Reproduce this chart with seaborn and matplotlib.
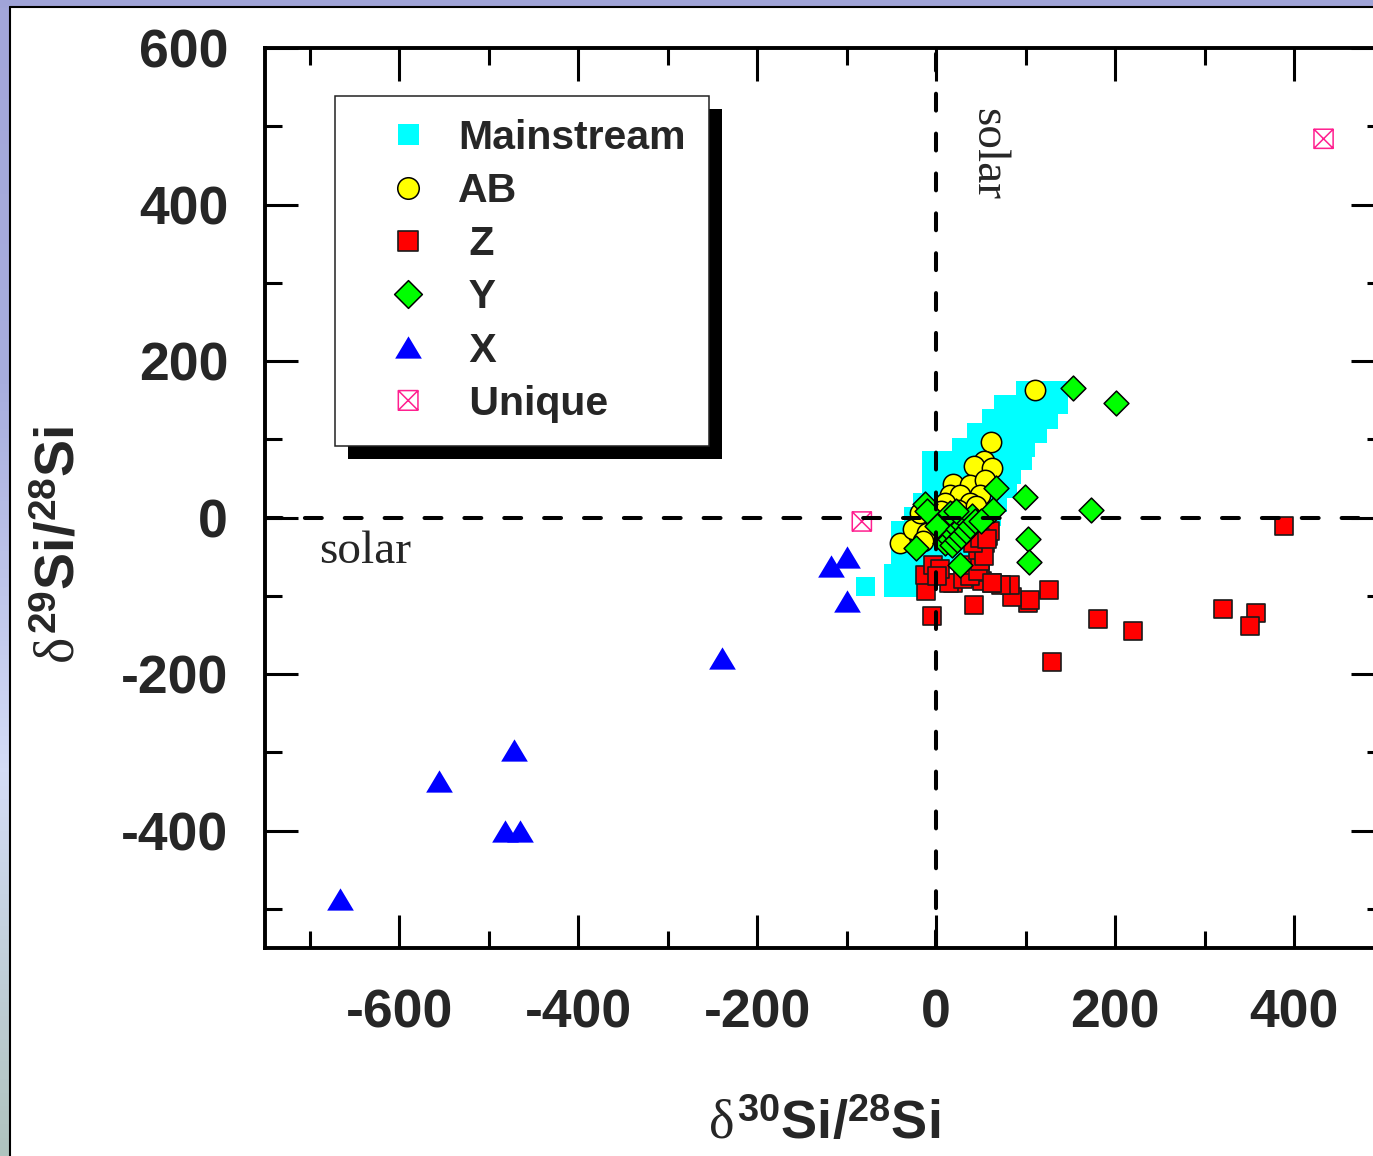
"""SiC presolar grains: d29Si vs d30Si by grain type."""
import matplotlib

matplotlib.use("Agg")
import matplotlib.patheffects as pe
import matplotlib.pyplot as plt
import numpy as np
import seaborn as sns
from matplotlib.lines import Line2D
from matplotlib.path import Path
from matplotlib.patches import Rectangle
from matplotlib.ticker import MultipleLocator

# delta values in permil
MAIN_X = [100, 118, 136, 75, 92, 110, 127, 137, 62, 78, 95, 112, 126,
          45, 60, 76, 92, 108, 113, 28, 44, 60, 76, 92, 100,
          -5, 10, 26, 42, 58, 74, 88, 96, -5, 10, 26, 42, 58, 74, 84,
          -5, 10, 26, 42, 58, 72, 80, -15, 0, 16, 32, 48, 64, 68,
          -25, -10, 5, 20, 36, 52, 62, -40, -25, -10, 5, 20, 35, 48,
          -40, -25, -10, 5, 20, 32, -40, -25, -10, 5, 18,
          -48, -33, -18, -5, -48, -33, -18, -79]
MAIN_Y = [162, 162, 162, 144, 144, 144, 144, 144, 126, 126, 126, 126, 126,
          108, 108, 108, 108, 108, 108, 90, 90, 90, 90, 90, 90,
          73, 73, 73, 73, 73, 73, 73, 73, 55, 55, 55, 55, 55, 55, 55,
          37, 37, 37, 37, 37, 37, 37, 19, 19, 19, 19, 19, 19, 19,
          1, 1, 1, 1, 1, 1, 1, -17, -17, -17, -17, -17, -17, -17,
          -35, -35, -35, -35, -35, -35, -53, -53, -53, -53, -53,
          -71, -71, -71, -71, -89, -89, -89, -88]

AB_X = [111, 61, 53, 42, 62, 19, 38, 55, 16, 27, 49, 10, 38, 6, -40, -26,
        -18, -10, 25, 45, 0, -15]
AB_Y = [163, 97, 72, 66, 63, 43, 42, 48, 29, 29, 29, 19, 19, 8, -32, -15,
        6, -20, 10, 15, -5, -30]

Z_X = [389, 321, 357, 351, 220, 181, 129, 126, 103, 105, 85, 83, 73, 63,
       51, 49, 42, 19, 14, -5, -11, -12, -3, 4, 30, 38, 41, 47, 49, 47,
       55, 58, 60, 53, 62, 41, 49, 57, 1]
Z_Y = [-11, -117, -122, -139, -145, -129, -185, -92, -109, -105, -102, -86,
       -86, -83, -81, -70, -112, -83, -83, -126, -94, -73, -60, -66, -79,
       -75, -60, -68, -56, -41, -32, -24, -17, -49, -83, -32, -26, -28, -75]

Y_X = [153, 201, 67, 99, 173, 64, 103, 104, -12, -10, -22, 27, 1, 16, 10,
       15, 20, 25, 30, 35, 40, 18, 23, 28, 33, 38, 43, 50, 22]
Y_Y = [165, 147, 38, 26, 10, 10, -28, -57, 17, 8, -39, -60, -11, 6, -33,
       -27, -21, -15, -10, -4, 2, -35, -29, -23, -17, -11, -5, -5, 8]

X_X = [-666, -556, -472, -482, -465, -239, -117, -100, -100]
X_Y = [-488, -337, -297, -400, -400, -179, -62, -51, -107]

U_X = [-83, 433]
U_Y = [-5, 484]

# boxed cross marker for the "Unique" grains
BOXX = Path(
    [(-1, -1), (1, -1), (1, 1), (-1, 1), (-1, -1), (1, 1), (-1, 1), (1, -1)],
    [Path.MOVETO, Path.LINETO, Path.LINETO, Path.LINETO, Path.LINETO,
     Path.LINETO, Path.MOVETO, Path.LINETO],
)
# the X-grain triangles are a bit wider than tall
WIDE_TRI = Path([(0, 1), (-1.2, -1), (1.2, -1), (0, 1)],
                [Path.MOVETO, Path.LINETO, Path.LINETO, Path.CLOSEPOLY])

GROUPS = [
    ("Mainstream", MAIN_X, MAIN_Y, "s", "#00ffff", "none", 0.0, 190),
    ("AB", AB_X, AB_Y, "o", "#ffff00", "black", 1.1, 215),
    (" Z", Z_X, Z_Y, "s", "#ff0000", "#1a1a1a", 1.2, 170),
    (" Y", Y_X, Y_Y, "D", "#00ff00", "black", 1.1, 160),
    (" X", X_X, X_Y, WIDE_TRI, "#0000ff", "#0000ff", 0.0, 370),
    (" Unique", U_X, U_Y, BOXX, "none", "#ff1f8f", 1.1, 190),
]
LEGEND_SIZES = [230, 240, 215, 200, 370, 200]

sns.set_style("ticks")
plt.rcParams.update({
    "font.family": ["Liberation Sans", "DejaVu Sans"],
    "font.weight": "bold",
    "axes.unicode_minus": False,
    "mathtext.fontset": "custom",
    "mathtext.rm": "Liberation Sans:bold",
    "mathtext.bf": "Liberation Sans:bold",
    "mathtext.it": "Liberation Serif:style=normal:weight=normal",
})

W, H = 1373, 1156
fig = plt.figure(figsize=(W / 100, H / 100), dpi=100, facecolor="white")

# window frame strips (top and left)
grad = np.linspace(0, 1, 256)[:, None]
bg = fig.add_axes([0, 0, 9 / W, 1])
bg.imshow(grad, aspect="auto", extent=(0, 1, 0, 1),
          cmap=matplotlib.colors.LinearSegmentedColormap.from_list(
              "frame", ["#a2a6d9", "#a8aede", "#d4dcf6", "#afc3be"]))
bg.set_axis_off()
fig.patches.append(Rectangle((0, 1 - 6 / H), 1, 6 / H, transform=fig.transFigure,
                             color="#a0a4d8", zorder=0))
fig.lines.append(Line2D([10 / W, 1], [1 - 7 / H, 1 - 7 / H], transform=fig.transFigure,
                        color="black", lw=1.5))
fig.lines.append(Line2D([10 / W, 10 / W], [0, 1 - 7 / H], transform=fig.transFigure,
                        color="black", lw=1.5))

ax = fig.add_axes([265 / W, 208 / H, 1118.5 / W, 900 / H])
for name, xs, ys, mk, fc, ec, lw, s in GROUPS:
    sns.scatterplot(x=xs, y=ys, ax=ax, marker=mk, color=fc, edgecolor=ec,
                    linewidth=lw, s=s, label=name, zorder=3)

ax.axhline(0, color="black", lw=2.9, linestyle=(0, (4.2, 5.7)),
           dash_capstyle="round", zorder=5)
ax.axvline(0, color="black", lw=2.9, linestyle=(0, (4.2, 5.7)),
           dash_capstyle="round", zorder=5)

ax.text(-689, -57.5, "solar", family="Liberation Serif", fontweight="normal",
        fontsize=34, ha="left", va="baseline")
ax.text(45, 523, "solar", family="Liberation Serif", fontweight="normal",
        fontsize=34, rotation=-90, rotation_mode="anchor", ha="left", va="baseline")

ax.set_xlim(-750, 500)
ax.set_ylim(-550, 600)
ax.xaxis.set_major_locator(MultipleLocator(200))
ax.xaxis.set_minor_locator(MultipleLocator(100))
ax.yaxis.set_major_locator(MultipleLocator(200))
ax.yaxis.set_minor_locator(MultipleLocator(100))
ax.tick_params(which="both", direction="in", top=True, right=True,
               width=2.2, color="black")
ax.tick_params(which="major", length=24, labelsize=38.5)
ax.tick_params(which="minor", length=12)
ax.tick_params(axis="y", pad=26.5)
ax.tick_params(axis="x", pad=29)
for sp in ax.spines.values():
    sp.set_linewidth(2.8)
    sp.set_color("black")

ax.set_xlabel(r"$\delta^{30}$Si/$^{28}$Si", fontsize=39, fontweight="bold")
ax.set_ylabel(r"$\delta^{29}$Si/$^{28}$Si", fontsize=40, fontweight="bold")
ax.xaxis.set_label_coords(0.5, -0.168)
ax.yaxis.set_label_coords(-0.160, 0.448)

leg = ax.legend(loc="upper left", bbox_to_anchor=(70 / 1118.5, 852 / 900),
                borderaxespad=0, fontsize=29.5, frameon=True, fancybox=False,
                framealpha=1, edgecolor="#222222", scatterpoints=1,
                scatteryoffsets=[0.5], borderpad=0.56, handlelength=2.45,
                handletextpad=0.0, labelspacing=0.37)
for handle, size in zip(leg.legend_handles, LEGEND_SIZES):
    handle.set_sizes([size])
frame = leg.get_frame()
frame.set_linewidth(1.1)
frame.set_path_effects([
    pe.SimplePatchShadow(offset=(9.4, -9.4), shadow_rgbFace="black", alpha=1.0),
    pe.Normal(),
])
leg.set_zorder(10)

fig.savefig("out.png", dpi=100, facecolor="white")
